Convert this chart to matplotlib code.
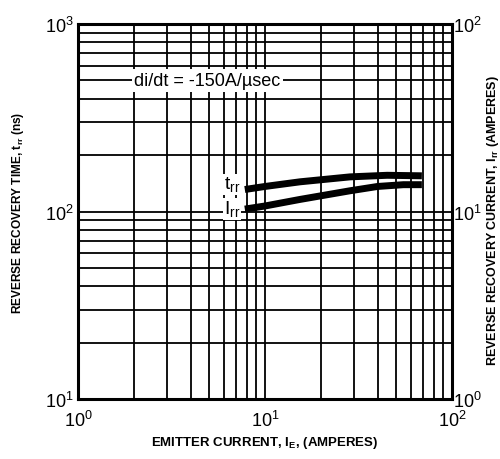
import matplotlib.pyplot as plt

plt.rcParams['font.family'] = ['Liberation Sans', 'DejaVu Sans']

# emitter current (A)
ie_trr = [7.8, 10, 15.4, 28.5, 45, 69]
trr_ns = [131, 136, 144, 153, 156, 155]
ie_irr = [7.8, 10, 15.4, 28.5, 40, 55, 69]
irr_a = [10.3, 10.7, 11.6, 12.9, 13.6, 13.9, 13.9]

fig = plt.figure(figsize=(5, 4.6), dpi=100)
ax = fig.add_axes([78 / 500, 60 / 460, 374 / 500, 375 / 460])
ax.set_xscale('log')
ax.set_yscale('log')
ax.set_xlim(1, 100)
ax.set_ylim(10, 1000)

ax.grid(True, which='both', color='black', linewidth=1.3)
ax.tick_params(axis='y', which='both', length=0, labelsize=13, pad=3)
ax.tick_params(axis='x', which='both', length=0, labelsize=13, pad=8)
for s in ax.spines.values():
    s.set_linewidth(2.2)

ax.plot(ie_trr, trr_ns, color='black', linewidth=5, solid_capstyle='butt')

ax2 = ax.twinx()
ax2.set_yscale('log')
ax2.set_ylim(1, 100)
ax2.tick_params(which='both', length=0, labelsize=13, pad=1)
ax2.plot(ie_irr, irr_a, color='black', linewidth=5, solid_capstyle='butt')

ax.set_xlabel('EMITTER CURRENT, I$_\\mathregular{E}$, (AMPERES)', fontsize=9.5,
              fontweight='bold', labelpad=3)
ax.set_ylabel('REVERSE RECOVERY TIME, t$_\\mathregular{rr}$ (ns)', fontsize=8.6,
              fontweight='bold', labelpad=14)
fig.text(493 / 500, 0.52, 'REVERSE RECOVERY CURRENT, I$_\\mathregular{rr}$ (AMPERES)',
         fontsize=9, fontweight='bold', rotation=90, ha='center', va='center')

ax.text(2.0, 500, 'di/dt = -150A/µsec', fontsize=13, ha='left', va='center',
        bbox=dict(facecolor='white', edgecolor='none', pad=2))
ax.text(7.4, 140, 't$_\\mathregular{rr}$', fontsize=14, ha='right', va='center',
        bbox=dict(facecolor='white', edgecolor='none', pad=0.5))
ax.text(7.4, 103, 'I$_\\mathregular{rr}$', fontsize=14, ha='right', va='center',
        bbox=dict(facecolor='white', edgecolor='none', pad=0.5))

fig.savefig('out.png', dpi=100)
